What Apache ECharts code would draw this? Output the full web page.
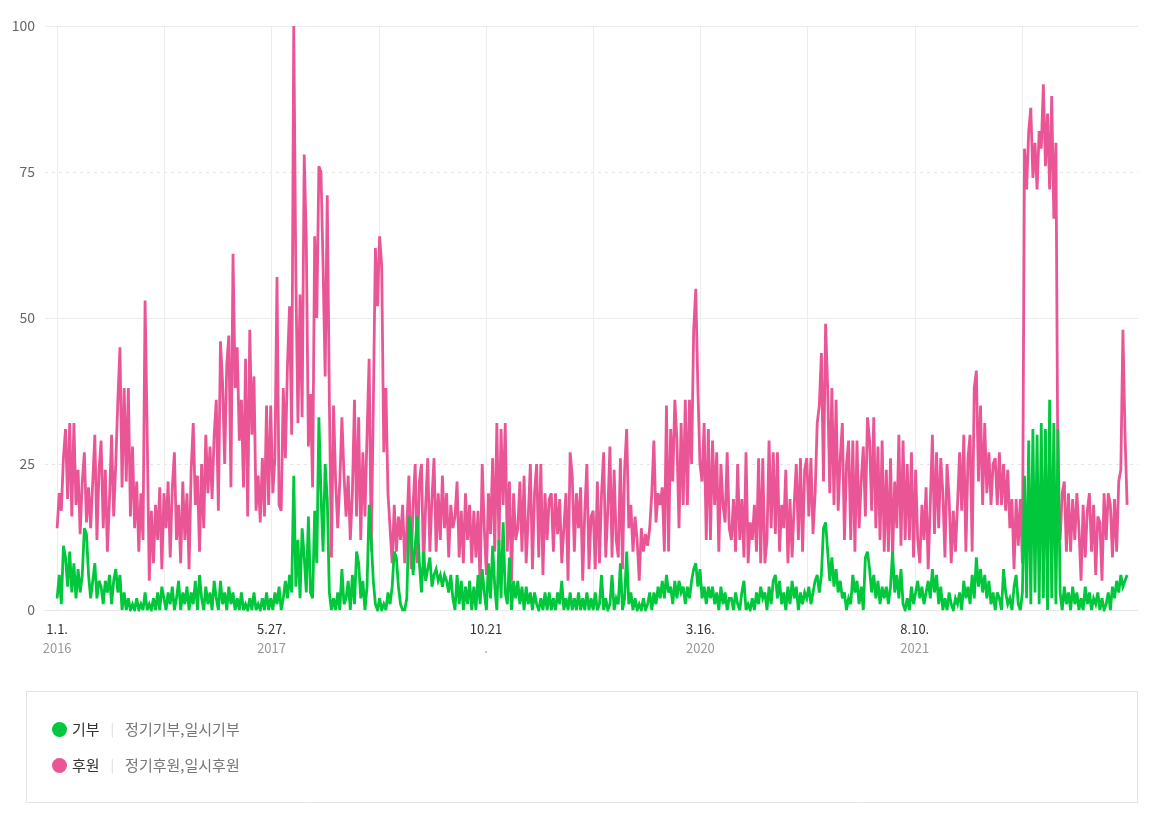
<!DOCTYPE html>
<html>
<head>
<meta charset="utf-8">
<title>기부 / 후원 검색 추이</title>
<script src="https://cdn.jsdelivr.net/npm/echarts@6/dist/echarts.min.js"></script>
<style>
  html, body { margin: 0; padding: 0; background: #fff; }
  #main { width: 1163px; height: 821px; }
</style>
</head>
<body>
<div id="main"></div>
<script>
// one reading every 5 days, starting 2016-01-01 (day 0)
const startDay = 0;
const stepDays = 5;

const seriesNames = ['기부', '후원'];
const seriesDesc = ['정기기부,일시기부', '정기후원,일시후원'];

// 기부 (green)
const givingValues = [
  2,6,1,11,9,4,10,3,8,2, 7,3,6,14,13,6,2,5,8,2, 5,4,1,5,3,6,1,5,7,3, 6,0,3,0,2,0,1,0,2,0, 1,0,3,0,1,0,2,0,3,0, 4,
  2,0,3,1,4,0,2,5,0,3,
  1,4,0,3,1,5,0,6,2,0, 4,1,3,0,5,2,0,5,1,3, 0,4,1,3,0,2,0,3,0,1, 0,2,0,3,0,1,0,2,0,3, 0,2,
  0,3,1,4,0,2,5,2,6,3, 23,4,12,2,14,9,3,16,3,2, 17,8,33,
  20,10,25,19,3,0,2,0,3,0, 7,1,2,5,0,6,1,10,8,2, 5,0,4,18,12,5,1,0,2,0, 1,0,3,1,4,10,9,4,1,0, 0,2,16,14,6,11,16,8,3,10, 5,7,9,4,6,7,5,6,4,6, 5,3,6,2,
  0,6,1,5,0,4,1,5,0,4, 0,6,1,7,3,0,8,2,11,4, 0,12,2,15,3,1,9,0,5,2, 5,1,4,0,4,1,3,0,3,1, 0,2,0,3,0,3,0,2,0,3, 1,5,0,2,0,3,0,2,0,3, 0,2,0,3,0,2,
  0,3,0,1,6,0,2,0,1,6, 0,2,1,8,0,2,10,1,3,0, 2,0,1,0,2,0,1,3,0,3, 1,4,2,5,2,6,3,4,1,5, 2,5,3,4,1,4,2,5,7,8, 4,7,2,4,1,4,2,4,1,3, 0,4,1,3,0,2,
  2,0,3,1,0,3,5,0,1,0, 2,0,3,1,4,2,3,0,4,1, 5,6,2,5,1,3,0,4,1,5, 2,4,0,3,1,3,2,4,1,3, 5,6,3,6,14,15,10,5,9,4, 7,3,5,2,3,0,2,1,6,3, 5,1,4,0,9,
  10,7,3,6,2,5,1,4,2,4, 1,4,10,3,6,2,7,1,0,2, 0,4,1,3,5,2,4,1,3,5, 2,7,3,6,1,4,0,2,0,3, 1,0,2,1,3,0,5,2,4,1, 6,2,9,4,7,3,6,2,5,1, 3,0,3,
  2,0,7,3,1,2,0,4,6,1, 0,3,23,2,29,1,31,3,30,1, 32,2,31,0,36,2,32,1,31,3, 0,4,1,3,0,4,1,3,0,2, 0,4,1,3,0,2,1,3,0,2, 0,1,3,0,4,2,5,3,6,4, 5,6
];

// 후원 (pink)
const supportValues = [
  14,20,17,26,31,19,32,16,32,18, 24,13,22,27,15,21,14,22,30,12, 24,29,14,24,10,19,30,16,25,36, 45,21,38,22,38,16,28,14,22,10, 20,12,53,30,5,17,8,18,12,21, 7,
  20,14,22,9,21,27,12,18,8,22,
  12,20,7,24,32,18,23,10,25,14, 30,20,28,19,30,36,17,46,39,25, 42,47,21,61,38,45,29,36,21,43, 16,48,30,40,17,23,15,26,16,35, 18,35,
  20,26,57,18,17,38,26,42,52,30, 100,57,32,54,33,78,63,28,37,21, 64,50,76,
  75,59,40,71,36,9,35,22,14,22, 33,23,16,23,12,20,36,16,33,12, 27,16,30,43,10,35,62,52,64,59, 27,38,20,14,8,18,10,16,12,18, 8,14,23,7,18,25,8,22,25,7, 18,26,10,19,26,10,20,12,23,14, 20,9,18,14,
  16,22,9,17,8,20,12,18,8,17, 9,17,4,25,14,6,20,13,26,10, 32,11,31,18,32,10,22,5,20,12, 14,22,10,23,8,16,25,7,20,25, 9,25,6,20,12,19,20,10,20,13, 19,8,14,20,5,27,23,10,20,14, 21,5,17,25,7,16,
  17,7,22,8,20,27,9,17,28,9, 24,12,9,26,7,24,31,14,18,10, 16,12,5,14,10,13,11,14,20,29, 15,20,18,21,10,35,10,31,22,36, 29,14,32,18,36,18,36,25,48,55, 38,25,22,32,12,31,12,29,18,27, 10,25,18,15,27,14,
  12,19,10,25,12,19,9,27,8,15, 12,18,10,26,8,26,8,12,29,14, 27,13,27,10,18,14,24,8,19,9, 18,25,12,26,10,24,26,16,26,13, 20,32,35,44,22,49,38,20,38,18, 36,17,26,32,12,25,29,12,29,10, 29,14,22,28,16,
  33,29,17,33,14,28,12,29,10,24, 10,26,9,22,14,30,11,29,12,25, 12,27,9,24,12,8,18,12,21,7, 18,30,13,27,14,26,20,9,25,19, 8,17,10,18,27,17,30,10,26,30, 10,38,41,22,35,18,32,20,27,18, 25,26,18,
  27,18,25,17,24,14,19,7,19,11, 19,8,79,72,82,86,74,80,72,82, 79,90,76,85,72,88,67,80,19,12, 20,22,10,20,10,19,12,20,14,5, 18,9,17,20,10,18,6,16,15,5, 20,12,20,18,9,19,10,22,24,48, 30,18
];

// x axis: grid lines every 256 days, labels every 512 days
const xGridDays = [0, 256, 512, 768, 1024, 1280, 1536, 1792, 2048, 2304];
const xTickDays = [0, 512, 1024, 1536, 2048];
const xTickDates = ['1.1.', '5.27.', '10.21', '3.16.', '8.10.'];
const xTickYears = ['2016', '2017', '.', '2020', '2021'];

const yTicks = [0, 25, 50, 75, 100];

const fontFamily = '"Noto Sans CJK KR", "Noto Sans", sans-serif';

function toPoints(values) {
  return values.map((v, i) => [startDay + i * stepDays, v]);
}

const chart = echarts.init(document.getElementById('main'));

chart.setOption({
  animation: false,
  textStyle: { fontFamily: fontFamily },
  grid: { left: 45, right: 25, top: 26, bottom: 211 },
  xAxis: {
    type: 'value',
    min: -29,
    max: 2581,
    axisLine: { show: true, lineStyle: { color: '#e8e8e8' } },
    axisTick: { show: false, customValues: xGridDays },
    splitLine: { show: true, lineStyle: { color: '#ededed', width: 1 } },
    axisLabel: {
      customValues: xTickDays,
      margin: 10,
      formatter: function (v) {
        const k = xTickDays.indexOf(v);
        if (k < 0) return '';
        return '{d|' + xTickDates[k] + '}\n{y|' + xTickYears[k] + '}';
      },
      rich: {
        d: { fontSize: 13, color: '#333', lineHeight: 19, fontFamily: fontFamily },
        y: { fontSize: 13, color: '#999', lineHeight: 19, fontFamily: fontFamily }
      }
    }
  },
  yAxis: [
    {
      type: 'value',
      min: yTicks[0],
      max: yTicks[yTicks.length - 1],
      interval: 25,
      axisLine: { show: false },
      axisTick: { show: false },
      axisLabel: { color: '#666', fontSize: 14, margin: 10 },
      splitLine: { lineStyle: { color: '#e6e6e6', type: [3, 4] } }
    },
    {
      type: 'value',
      min: 0,
      max: 100,
      interval: 50,
      axisLine: { show: false },
      axisTick: { show: false },
      axisLabel: { show: false },
      splitLine: { lineStyle: { color: '#ececec' } }
    }
  ],
  legend: {
    orient: 'vertical',
    left: 52,
    top: 722,
    padding: 0,
    icon: 'circle',
    itemWidth: 15,
    itemHeight: 15,
    itemGap: 21,
    selectedMode: false,
    data: seriesNames,
    formatter: function (name) {
      const k = seriesNames.indexOf(name);
      return '{n|' + name + '}{s||}{d|' + seriesDesc[k] + '}';
    },
    textStyle: {
      rich: {
        n: { fontSize: 15, color: '#333', fontFamily: fontFamily },
        s: { fontSize: 13, color: '#d8d8d8', padding: [0, 11, 0, 11], fontFamily: fontFamily },
        d: { fontSize: 15, color: '#777', fontFamily: fontFamily }
      }
    }
  },
  graphic: [
    {
      type: 'rect',
      silent: true,
      shape: { x: 26.5, y: 691.5, width: 1111, height: 111 },
      style: { fill: 'none', stroke: '#e3e3e3', lineWidth: 1 }
    }
  ],
  series: [
    {
      name: '후원',
      type: 'line',
      data: toPoints(supportValues),
      showSymbol: false,
      color: '#ea5596',
      lineStyle: { width: 2.8, color: '#ea5596', join: 'miter', miterLimit: 4 },
      z: 2
    },
    {
      name: '기부',
      type: 'line',
      data: toPoints(givingValues),
      showSymbol: false,
      color: '#00c73c',
      lineStyle: { width: 2.8, color: '#00c73c', join: 'miter', miterLimit: 4 },
      z: 3
    }
  ]
});
</script>
</body>
</html>
